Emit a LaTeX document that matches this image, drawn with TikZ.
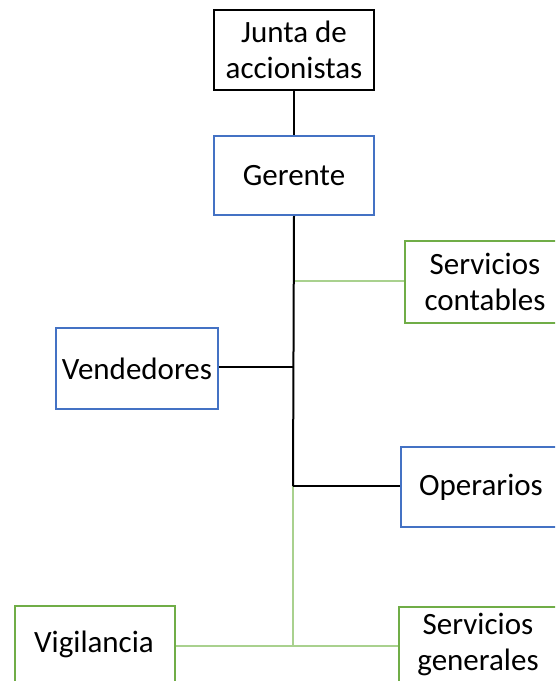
\documentclass[tikz,border=0pt]{standalone}
\usepackage{fontspec}
\setmainfont{Carlito}
\definecolor{boxblue}{HTML}{4472C4}
\definecolor{boxgreen}{HTML}{70AD47}
\definecolor{linegreen}{HTML}{A9D18E}
\begin{document}
\begin{tikzpicture}[x=1pt,y=-1pt,
  txt/.style={font=\fontsize{31}{36}\selectfont, align=center, inner sep=0pt},
  box/.style={draw, line width=2pt, fill=white, inner sep=0pt, txt, anchor=north west},
  bk/.style={box, draw=black},
  bl/.style={box, draw=boxblue},
  gr/.style={box, draw=boxgreen},
  blk/.style={draw=black, line width=2pt},
  grn/.style={draw=linegreen, line width=1.6pt}]
\useasboundingbox (0,0) rectangle (555,681);
\clip (0,0) rectangle (555,681);
% trunk coordinates
\coordinate (t1) at (293,281);
\coordinate (t2) at (293,367);
\coordinate (t3) at (293,486);
\coordinate (t4) at (293,646);
% green connectors (drawn first)
\draw[grn] (t3) -- (t4);
\draw[grn] (t1) -- (404,281) coordinate (sc);
\draw[grn] (t4) -- (398,646) coordinate (sg);
\draw[grn] (174,646) coordinate (vg) -- (t4);
% boxes
\node[bk, minimum width=160pt, minimum height=80pt] (junta) at (213,9) {Junta de\\accionistas};
\node[bl, minimum width=160pt, minimum height=79pt] (ger) at (213,135) {Gerente};
\node[gr, minimum width=160pt, minimum height=82pt] (serc) at (404,240) {Servicios\\contables};
\node[bl, minimum width=162pt, minimum height=81pt] (ven) at (55,327) {Vendedores};
\node[bl, minimum width=160pt, minimum height=80pt] (ope) at (400,446) {Operarios};
\node[gr, minimum width=160pt, minimum height=82pt] (serg) at (398,606) {};
\node[txt, anchor=north] (sgt) at (478,613) {Servicios\\generales};
\node[gr, minimum width=160pt, minimum height=82pt] (vig) at (14,605) {};
\node[txt] (vgt) at (94,644) {Vigilancia};
% black connectors
\draw[blk] (junta.south) -- (ger.north);
\draw[blk] (ger.south) -- (t3);
\draw[blk] (ven.east |- t2) -- (t2);
\draw[blk] (t3) -- (ope.west |- t3);
\end{tikzpicture}
\end{document}
